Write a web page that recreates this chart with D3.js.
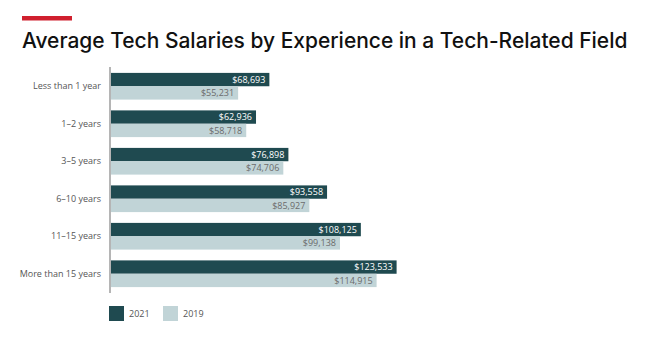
<!DOCTYPE html>
<html>
<head>
<meta charset="utf-8">
<script src="https://cdn.jsdelivr.net/npm/d3@7"></script>
<style>
  body { margin: 0; background: #fff; }
  svg { display: block; }
</style>
</head>
<body>
<div id="chart"></div>
<script>
// données
const categories = ["Less than 1 year", "1\u20132 years", "3\u20135 years", "6\u201310 years", "11\u201315 years", "More than 15 years"];
const series = ["2021", "2019"];
const values2021 = [68693, 62936, 76898, 93558, 108125, 123533];
const values2019 = [55231, 58718, 74706, 85927, 99138, 114915];

const colors = { "2021": "#1f4a50", "2019": "#c1d4d7" };
const labelColors = { "2021": "#ffffff", "2019": "#6b6b6b" };

const data = categories.map((c, i) => ({
  cat: c,
  vals: [{ key: "2021", v: values2021[i] }, { key: "2019", v: values2019[i] }]
}));

const W = 645, H = 339;
const svg = d3.select("#chart").append("svg").attr("width", W).attr("height", H);

// barre rouge + titre
svg.append("rect").attr("x", 22).attr("y", 16).attr("width", 50).attr("height", 4.5).attr("fill", "#d0202e");

const title = svg.append("text")
  .attr("x", 22).attr("y", 48)
  .style("font-family", "Inter, Roboto, sans-serif")
  .style("font-weight", 500)
  .style("font-size", "20px")
  .style("fill", "#111")
  .text("Average Tech Salaries by Experience in a Tech-Related Field");
// ajustement de la taille pour coller à la largeur du titre
const tl = title.node().getComputedTextLength();
title.style("font-size", (20 * 606 / tl) + "px");

// échelles
const x = d3.scaleLinear().domain([0, 125000]).range([110, 400]);
const y = d3.scaleBand().domain(categories).range([67.5, 292.5]).paddingInner(0.288).paddingOuter(0.144);
const ySub = d3.scaleBand().domain(series).range([0, y.bandwidth()]);

const fmt = d3.format("$,");

const groups = svg.selectAll(".grp")
  .data(data)
  .enter()
  .append("g")
  .attr("class", "grp")
  .attr("transform", d => `translate(0,${y(d.cat)})`);

groups.selectAll("rect")
  .data(d => d.vals)
  .enter()
  .append("rect")
  .attr("x", x(0))
  .attr("y", d => ySub(d.key))
  .attr("width", d => x(d.v) - x(0))
  .attr("height", ySub.bandwidth())
  .attr("fill", d => colors[d.key]);

groups.selectAll(".val")
  .data(d => d.vals)
  .enter()
  .append("text")
  .attr("class", "val")
  .attr("x", d => x(d.v) - 4)
  .attr("y", d => ySub(d.key) + ySub.bandwidth() / 2)
  .attr("dy", "0.35em")
  .attr("text-anchor", "end")
  .style("font-family", "'Open Sans', sans-serif")
  .style("font-size", "9px")
  .style("fill", d => labelColors[d.key])
  .text(d => fmt(d.v));

// axe y (ligne + libellés)
const yAxis = svg.append("g")
  .attr("transform", `translate(${x(0)},0)`)
  .call(d3.axisLeft(y).tickSize(0).tickPadding(9));
yAxis.select(".domain").attr("stroke", "#b5b5b5").attr("stroke-width", 2)
  .attr("d", `M0,67V293`);
yAxis.selectAll("text")
  .style("font-family", "'Open Sans', sans-serif")
  .style("font-size", "9px")
  .style("fill", "#555");

// légende
const leg = svg.selectAll(".leg")
  .data(series)
  .enter()
  .append("g")
  .attr("class", "leg")
  .attr("transform", (d, i) => `translate(${109 + i * 54},306)`);
leg.append("rect").attr("width", 15).attr("height", 15).attr("fill", d => colors[d]);
leg.append("text")
  .attr("x", 20).attr("y", 7.5).attr("dy", "0.35em")
  .style("font-family", "'Open Sans', sans-serif")
  .style("font-size", "9px")
  .style("fill", "#555")
  .text(d => d);
</script>
</body>
</html>
